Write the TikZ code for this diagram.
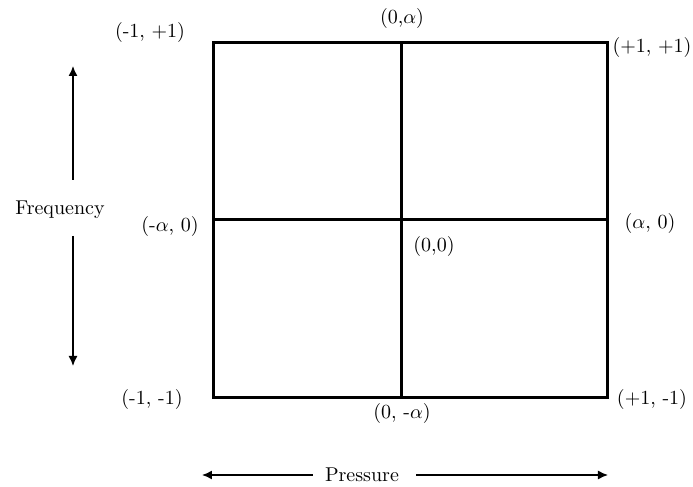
\documentclass[tikz,border=0pt]{standalone}
\usetikzlibrary{positioning,arrows.meta}
\begin{document}
\begin{tikzpicture}[x=0.5pt,y=-0.5pt,every node/.style={inner sep=1pt}]
\tikzstyle{frame}=[draw,line width=1.5pt]
\tikzstyle{arrow}=[draw,-{Latex[length=5pt,width=4.5pt]},line width=0.7pt]
\useasboundingbox (0,0) rectangle (693,487);
% corners of the design
\coordinate (c00) at (214,43);
\coordinate (c11) at (608,398);
\coordinate (top) at (402,43);
\coordinate (bot) at (402,398);
\coordinate (lft) at (214,220);
\coordinate (rgt) at (608,220);
\draw[frame] (c00) rectangle (c11);
\draw[frame] (top) -- (bot);
\draw[frame] (lft) -- (rgt);

\node(n00) at (150,33){(-1, +1)};
\node(n01) at (402,19){(0,$\alpha$)};
\node(n02) at (652,48){(+1, +1)};

\node(n10) at (170,227){(-$\alpha$, 0)};
\node(n11) at (434,246){(0,0)};
\node(n12) at (650,223){($\alpha$, 0)};

\node(n20) at (152,400){(-1, -1)};
\node(n21) at (402,414){(0, -$\alpha$)};
\node(n22) at (652,400){(+1, -1)};

\node(freq) at (60,210){Frequency};
\coordinate (fup) at (73,66);
\coordinate (fdn) at (73,366);
\path[arrow] (73,180) -- (fup);
\path[arrow] (73,236) -- (fdn);

\node(pres) at (362,475){Pressure};
\coordinate (plft) at (202,475);
\coordinate (prgt) at (608,475);
\path[arrow] (pres.west) ++(-10,0) -- (plft);
\path[arrow] (pres.east) ++(15,0) -- (prgt);
\end{tikzpicture}
\end{document}
